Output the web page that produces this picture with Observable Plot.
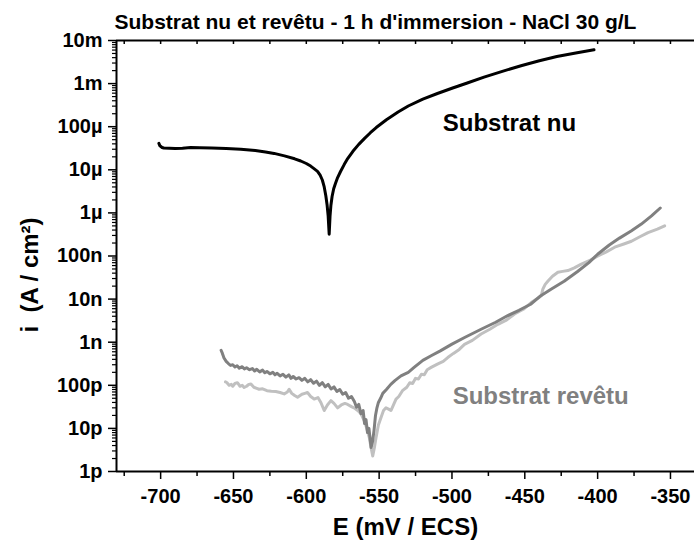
<!DOCTYPE html>
<html>
<head>
<meta charset="utf-8">
<script src="https://cdn.jsdelivr.net/npm/d3@7"></script>
<script src="https://cdn.jsdelivr.net/npm/@observablehq/plot@0.6"></script>
<style>
  html, body { margin: 0; padding: 0; background: #fff; }
  #chart { width: 694px; height: 542px; overflow: hidden; }
</style>
</head>
<body>
<div id="chart"></div>
<script>
// ---- Texts ----
const title = "Substrat nu et revêtu - 1 h d'immersion - NaCl 30 g/L";
const xLabel = "E (mV / ECS)";
const yLabel = "i  (A / cm²)";

// ---- Axes ----
const xDomain = [-730.3, -333.5];
const yDomain = [1e-12, 1e-2];
const xTicks = [-700, -650, -600, -550, -500, -450, -400, -350];
const xTickLabels = ["-700", "-650", "-600", "-550", "-500", "-450", "-400", "-350"];
const xMinorTicks = [-725, -675, -625, -575, -525, -475, -425, -375];
const yTicks = [1e-12, 1e-11, 1e-10, 1e-9, 1e-8, 1e-7, 1e-6, 1e-5, 1e-4, 1e-3, 1e-2];
const yTickLabels = ["1p", "10p", "100p", "1n", "10n", "100n", "1µ", "10µ", "100µ", "1m", "10m"];

// ---- Series: Substrat nu (black) ----
const nuE = [-701.2, -700.5, -699, -697.8, -694, -690, -685, -679.4, -673, -665, -655, -645, -635, -628, -622.1, -615, -608, -603.8, -600, -597, -594.5, -592.3, -590.5, -589, -587.7, -586.6, -585.7, -585, -584.3, -583.7, -583.1, -582.3, -581.2, -580, -578.5, -576.5, -574, -571.6, -568, -564, -560, -556, -552, -545, -537, -530, -520, -510, -500, -490, -478, -466, -452, -440, -428, -415, -402.5];
const nuI = [4.1e-5, 3.6e-5, 3.3e-5, 3.2e-5, 3.15e-5, 3.1e-5, 3.15e-5, 3.3e-5, 3.25e-5, 3.2e-5, 3.1e-5, 3.0e-5, 2.8e-5, 2.6e-5, 2.4e-5, 2.1e-5, 1.8e-5, 1.6e-5, 1.4e-5, 1.22e-5, 1.05e-5, 9.2e-6, 7.5e-6, 5.8e-6, 4.0e-6, 2.5e-6, 1.5e-6, 8.5e-7, 3.2e-7, 8.5e-7, 1.51e-6, 2.4e-6, 3.63e-6, 4.79e-6, 6.61e-6, 9.12e-6, 1.32e-5, 1.82e-5, 2.69e-5, 3.89e-5, 5.37e-5, 7.24e-5, 9.55e-5, 1.45e-4, 2.19e-4, 3.02e-4, 4.37e-4, 5.9e-4, 7.8e-4, 1.02e-3, 1.41e-3, 1.9e-3, 2.63e-3, 3.39e-3, 4.27e-3, 5.13e-3, 6.08e-3];

// ---- Series: Substrat revêtu (dark grey) ----
const revE = [-658.5, -657.6, -656.5, -655, -653.5, -652, -650.5, -649, -647.5, -646, -644, -642.5, -641, -639, -637, -635.5, -634, -632, -630, -628.5, -627, -625, -623, -621.5, -620, -618, -616, -614, -612, -610.5, -609, -607, -605, -603, -601, -599, -597, -595, -593, -591, -589, -587, -585, -583, -581, -579, -577, -575, -573, -571, -569, -567, -565.5, -564, -562.5, -561, -560, -559, -558, -557, -556, -555.5, -554.5, -553.5, -552.5, -551.5, -550.5, -549, -547.5, -545, -542, -539, -535, -530, -526, -520, -514, -508, -500, -491, -480, -470, -462, -454, -446, -439, -432, -423, -414, -406, -400, -392, -385, -377, -370, -363, -357];
const revI = [6.5e-10, 5.5e-10, 4.3e-10, 3.6e-10, 3.2e-10, 2.9e-10, 3.0e-10, 2.65e-10, 2.85e-10, 2.5e-10, 2.7e-10, 2.4e-10, 2.55e-10, 2.3e-10, 2.45e-10, 2.15e-10, 2.35e-10, 2.05e-10, 2.25e-10, 1.95e-10, 2.1e-10, 1.85e-10, 2.0e-10, 1.75e-10, 1.9e-10, 1.65e-10, 1.8e-10, 1.55e-10, 1.75e-10, 1.45e-10, 1.6e-10, 1.4e-10, 1.5e-10, 1.3e-10, 1.45e-10, 1.2e-10, 1.35e-10, 1.12e-10, 1.25e-10, 1.0e-10, 1.15e-10, 9.2e-11, 1.05e-10, 8.2e-11, 9.2e-11, 7.2e-11, 8e-11, 6.2e-11, 6.8e-11, 5.0e-11, 5.5e-11, 4.2e-11, 3.1e-11, 3.6e-11, 2.2e-11, 2.6e-11, 1.3e-11, 1.6e-11, 8e-12, 1e-11, 5e-12, 3.6e-12, 5e-12, 9e-12, 2e-11, 3e-11, 4e-11, 5e-11, 6.5e-11, 8e-11, 1.05e-10, 1.3e-10, 1.65e-10, 2.0e-10, 2.6e-10, 3.8e-10, 4.9e-10, 6.3e-10, 9e-10, 1.3e-9, 2.0e-9, 2.9e-9, 4.1e-9, 5.5e-9, 7.6e-9, 1.2e-8, 1.7e-8, 2.6e-8, 4.3e-8, 7e-8, 1.1e-7, 1.8e-7, 2.6e-7, 3.8e-7, 5.5e-7, 8.5e-7, 1.3e-6];

// ---- Series: Substrat revêtu (light grey) ----
const rev2E = [-655.5, -654.6, -653, -651.5, -650.5, -649, -647.3, -645.5, -644, -642.7, -641, -639.5, -638, -636, -634, -632.4, -630, -627, -624, -621, -618, -615.2, -613, -611.8, -610, -608, -606, -603, -601, -599.2, -597, -594.6, -592, -590, -587.7, -585.5, -583.1, -581, -578.5, -576, -573.5, -571.6, -569, -566.5, -564.7, -562.5, -560.2, -558.5, -556.8, -555.5, -554.4, -553.3, -552.1, -550.5, -548.7, -547, -545.3, -543.5, -541.9, -540, -538.4, -536.5, -534, -531, -529, -527, -525, -523, -521, -519, -517, -514.3, -510, -506, -502.9, -499, -495, -491.4, -486, -480, -474, -468.5, -463, -457, -451, -445.6, -441, -438.7, -437.6, -436, -434.2, -431, -427.3, -424, -420.4, -416, -411.2, -405, -399.8, -394, -388.3, -382, -376.8, -371, -365.4, -359, -354];
const rev2I = [1.2e-10, 1.16e-10, 1.0e-10, 1.05e-10, 9.5e-11, 1.1e-10, 1.15e-10, 9.5e-11, 1.0e-10, 8.9e-11, 9.5e-11, 1.05e-10, 1.07e-10, 9e-11, 8.5e-11, 8.1e-11, 8.3e-11, 7.5e-11, 7.3e-11, 7.2e-11, 6.8e-11, 6.3e-11, 7e-11, 8.1e-11, 6.5e-11, 5.8e-11, 5.3e-11, 6.2e-11, 6.5e-11, 6.8e-11, 5.5e-11, 4.8e-11, 5.2e-11, 4e-11, 2.6e-11, 3.5e-11, 4.4e-11, 3.8e-11, 3.0e-11, 3.5e-11, 3.8e-11, 3.6e-11, 3.2e-11, 2.9e-11, 2.6e-11, 2.2e-11, 1.5e-11, 1.0e-11, 6.2e-12, 3.5e-12, 2.3e-12, 3.5e-12, 6.2e-12, 1.2e-11, 1.8e-11, 2.6e-11, 3.0e-11, 2.8e-11, 2.6e-11, 3.6e-11, 4.8e-11, 5.5e-11, 7.5e-11, 9e-11, 1.15e-10, 1.1e-10, 1.45e-10, 1.4e-10, 1.8e-10, 1.75e-10, 2.3e-10, 2.6e-10, 3.1e-10, 3.6e-10, 4.4e-10, 5.5e-10, 6.8e-10, 8.9e-10, 1.1e-9, 1.55e-9, 2.0e-9, 2.6e-9, 3.2e-9, 4.5e-9, 5.8e-9, 8.3e-9, 1.05e-8, 1.2e-8, 1.7e-8, 2.2e-8, 2.6e-8, 3.4e-8, 4.2e-8, 4.4e-8, 4.6e-8, 5.3e-8, 6.5e-8, 8e-8, 1.0e-7, 1.25e-7, 1.6e-7, 1.9e-7, 2.2e-7, 2.8e-7, 3.5e-7, 4.2e-7, 5e-7];

// ---- Annotations ----
const annotNames = ["Substrat nu", "Substrat revêtu"];
const annotE = [-506.3, -499.5];
const annotI = [1.17e-4, 5.5e-11];

// ---- Build tables ----
const toRows = (E, I) => E.map((e, k) => ({E: e, i: I[k]}));
const nuRows = toRows(nuE, nuI);
const revRows = toRows(revE, revI);
const rev2Rows = toRows(rev2E, rev2I);
const annotRows = annotNames.map((n, k) => ({name: n, E: annotE[k], i: annotI[k]}));

const xLabelMap = new Map(xTicks.map((t, k) => [t, xTickLabels[k]]));
const yLabelMap = new Map(yTicks.map((t, k) => [t, yTickLabels[k]]));
const yMinorTicks = [];
for (const t of yTicks.slice(0, -1)) for (let m = 2; m <= 9; m++) yMinorTicks.push(t * m);
const xAllTicks = [...xTicks, ...xMinorTicks].sort((a, b) => a - b);

const font = "'Liberation Sans', Arial, Helvetica, sans-serif";

const chart = Plot.plot({
  width: 694,
  height: 542,
  marginLeft: 116,
  marginRight: 0,
  marginTop: 40,
  marginBottom: 71,
  style: {fontFamily: font, fontWeight: "bold", color: "#000", background: "#fff"},
  x: {domain: xDomain},
  y: {type: "log", domain: yDomain},
  marks: [
    Plot.axisX({ticks: xMinorTicks, tickSize: 5, strokeWidth: 1.5, tickFormat: () => "", label: null}),
    Plot.axisX({ticks: xTicks, tickSize: 8, strokeWidth: 1.5, tickPadding: 9, fontSize: 20, fontWeight: "bold", tickFormat: d => xLabelMap.get(d), label: null}),
    Plot.axisX({anchor: "top", ticks: xAllTicks, tickSize: 3, dy: 3, strokeWidth: 1.5, tickFormat: () => "", label: null}),
    Plot.axisY({ticks: yMinorTicks, tickSize: 4, strokeWidth: 1.2, tickFormat: () => "", label: null}),
    Plot.axisY({ticks: yTicks, tickSize: 8, strokeWidth: 1.5, tickPadding: 6, fontSize: 20, fontWeight: "bold", tickFormat: d => yLabelMap.get(d), label: null}),
    Plot.ruleX([xDomain[0]], {stroke: "#000", strokeWidth: 2}),
    Plot.ruleY([yDomain[0]], {stroke: "#000", strokeWidth: 2}),
    Plot.ruleY([yDomain[1]], {stroke: "#000", strokeWidth: 2}),
    Plot.line(rev2Rows, {x: "E", y: "i", stroke: "#c0c0c0", strokeWidth: 3, strokeLinejoin: "round", strokeLinecap: "round"}),
    Plot.line(revRows, {x: "E", y: "i", stroke: "#808080", strokeWidth: 3, strokeLinejoin: "round", strokeLinecap: "round"}),
    Plot.line(nuRows, {x: "E", y: "i", stroke: "#000", strokeWidth: 3, strokeLinejoin: "round", strokeLinecap: "round"}),
    Plot.text(annotRows, {x: "E", y: "i", text: "name", textAnchor: "start", lineAnchor: "middle", fontSize: 24, fontWeight: "bold", fill: (d) => d.name === "Substrat nu" ? "#000" : "#808080"}),
    Plot.text([title], {frameAnchor: "top-left", textAnchor: "start", lineAnchor: "middle", dx: -2, dy: -18.5, fontSize: 21, fontWeight: "bold", fill: "#000"}),
    Plot.text([xLabel], {frameAnchor: "bottom", textAnchor: "middle", lineAnchor: "middle", dy: 56, fontSize: 24, fontWeight: "bold", fill: "#000"}),
    Plot.text([yLabel], {frameAnchor: "left", rotate: -90, textAnchor: "middle", lineAnchor: "middle", dx: -86, dy: 19, fontSize: 24, fontWeight: "bold", fill: "#000"})
  ]
});
document.getElementById("chart").appendChild(chart);
</script>
</body>
</html>
